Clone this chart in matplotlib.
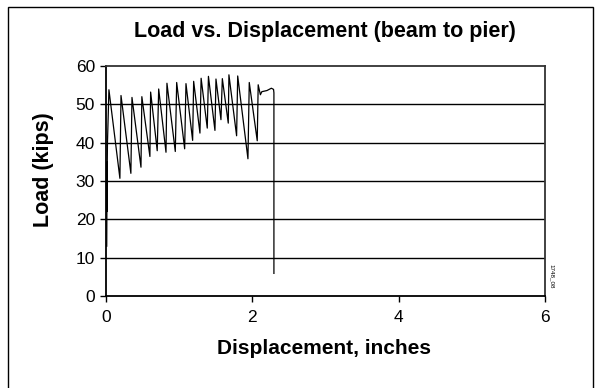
import matplotlib
matplotlib.use("Agg")
import matplotlib.pyplot as plt
from matplotlib.patches import Rectangle

plt.rcParams['font.family'] = ['Liberation Sans', 'DejaVu Sans']

# Data (displacement in inches, load in kips)
disp = [0.01, 0.015, 0.01, 0.02, 0.04,
        0.19, 0.205, 0.34, 0.355, 0.478, 0.49, 0.60, 0.61, 0.70, 0.72,
        0.82, 0.833, 0.947, 0.966, 1.075, 1.093, 1.184, 1.198, 1.284, 1.30,
        1.384, 1.40, 1.489, 1.503, 1.571, 1.59, 1.671, 1.68, 1.785, 1.80,
        1.94, 1.958, 2.067, 2.08, 2.11, 2.13, 2.20, 2.26, 2.29, 2.295, 2.295]
load = [13, 35, 22, 40, 53.8,
        30.7, 52.3, 32.0, 51.8, 33.6, 52.0, 36.4, 53.2, 37.9, 54.0,
        37.5, 55.5, 37.7, 55.7, 38.4, 55.4, 40.6, 56.0, 42.5, 56.8,
        43.8, 57.3, 43.2, 56.6, 46.0, 56.7, 45.1, 57.7, 41.8, 57.4,
        35.8, 55.7, 40.5, 55.1, 52.5, 53.3, 53.6, 54.2, 53.9, 53.0, 5.9]

xticks = [0, 2, 4, 6]
yticks = [0, 10, 20, 30, 40, 50, 60]

W, H = 600, 388
fig = plt.figure(figsize=(6, 3.88), dpi=100)
fig.patch.set_facecolor('white')

# outer border
fig.patches.append(Rectangle((8 / W, -0.05), (593 - 8) / W, 1 - 7 / H + 0.05,
                             transform=fig.transFigure, fill=False,
                             edgecolor='black', linewidth=1.0))

ax = fig.add_axes([106 / W, 1 - 296 / H, (545 - 106) / W, (296 - 66) / H])
ax.plot(disp, load, color='black', linewidth=0.9)
ax.set_xlim(0, 6)
ax.set_ylim(0, 60)
ax.set_xticks(xticks)
ax.set_yticks(yticks)
ax.set_xticklabels([str(v) for v in xticks], fontsize=12.5)
ax.set_yticklabels([str(v) for v in yticks], fontsize=12.5)
ax.tick_params(direction='out', length=4, width=1, colors='black')
ax.tick_params(axis='x', pad=6)
ax.tick_params(axis='y', pad=4)
for y in yticks[1:-1]:
    ax.axhline(y, color='black', linewidth=1.0, zorder=0)
for s in ['left', 'bottom']:
    ax.spines[s].set_linewidth(1.3)
for s in ['top', 'right']:
    ax.spines[s].set_linewidth(1.3)
    ax.spines[s].set_color('#333333')

fig.text(325 / W, 1 - 32 / H, 'Load vs. Displacement (beam to pier)',
         ha='center', va='center', fontsize=15.5, fontweight='bold')
fig.text(324 / W, 1 - 348 / H, 'Displacement, inches',
         ha='center', va='center', fontsize=15, fontweight='bold')
fig.text(43 / W, 1 - 170 / H, 'Load (kips)', rotation=90,
         ha='center', va='center', fontsize=15.5, fontweight='bold')
fig.text(552 / W, 1 - 276 / H, '1748_08', rotation=-90,
         ha='center', va='center', fontsize=4.5)

fig.savefig('out.png', dpi=100)
